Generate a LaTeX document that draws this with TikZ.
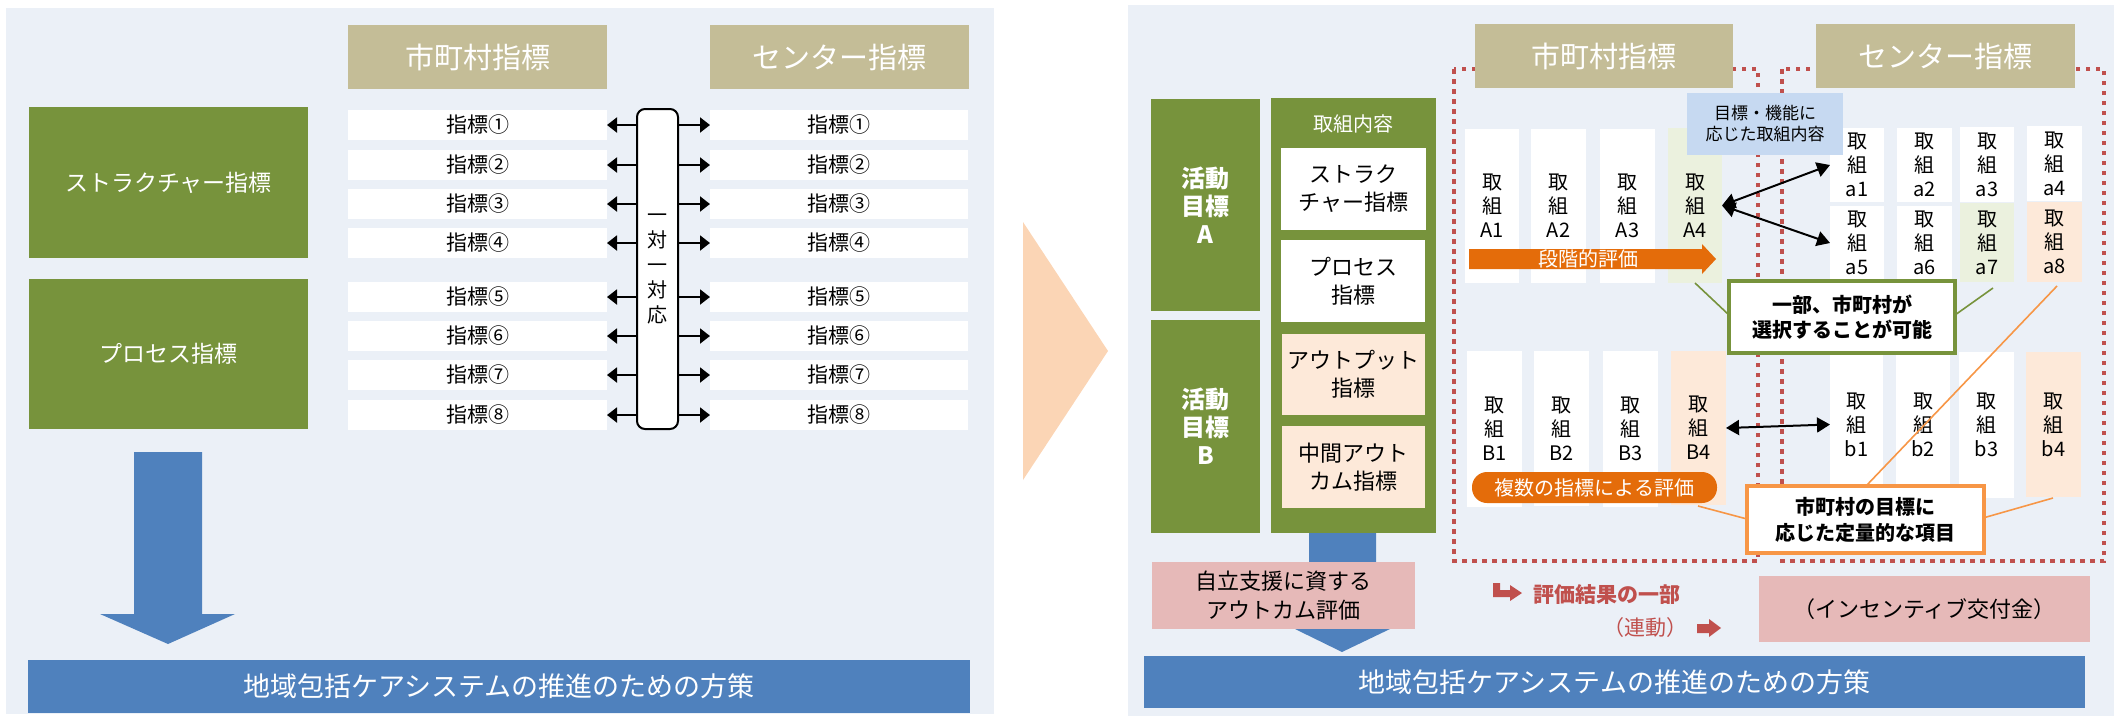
\documentclass[tikz,border=0pt]{standalone}
\usepackage{fontspec}
\setmainfont{Noto Sans CJK JP}
\usetikzlibrary{arrows.meta}
\definecolor{panelbg}{HTML}{EBF0F7}
\definecolor{tanc}{HTML}{C4BD97}
\definecolor{greenc}{HTML}{77933C}
\definecolor{lgreenc}{HTML}{EBF1DE}
\definecolor{peachc}{HTML}{FDE9D9}
\definecolor{pinkc}{HTML}{E6B9B8}
\definecolor{bluec}{HTML}{4F81BD}
\definecolor{lbluec}{HTML}{C6D9F1}
\definecolor{orangec}{HTML}{E46C0A}
\definecolor{orangel}{HTML}{F79646}
\definecolor{redc}{HTML}{C0504D}
\definecolor{chevc}{HTML}{FBD5B5}
\newcommand{\fsz}[2]{\fontsize{#1}{#2}\selectfont}
% name, style, x1, y1, x2, y2, text
\newcommand{\mkbox}[7]{%
  \pgfmathsetmacro{\mkX}{((#3)+(#5))/2}%
  \pgfmathsetmacro{\mkY}{((#4)+(#6))/2}%
  \pgfmathsetmacro{\mkW}{abs((#5)-(#3))}%
  \pgfmathsetmacro{\mkH}{abs((#6)-(#4))}%
  \node[#2, minimum width=\mkW pt, minimum height=\mkH pt] (#1) at (\mkX,\mkY) {#7};}
\tikzset{
  tanhdr/.style={fill=tanc, text=white, font=\fsz{29pt}{34pt}},
  gbox/.style={fill=greenc, text=white},
  gtitle/.style={gbox, font=\fsz{23pt}{28pt}},
  gbold/.style={gbox, font=\bfseries\fsz{24pt}{28pt}},
  rowbox/.style={fill=white, text=black, font=\fsz{21pt}{24pt}},
  wbox/.style={fill=white, text=black, font=\fsz{22pt}{28pt}},
  pbox/.style={fill=peachc, text=black, font=\fsz{22pt}{28pt}},
  tw/.style={fill=white, text=black, font=\fsz{20pt}{24pt}},
  tg/.style={fill=lgreenc, text=black, font=\fsz{20pt}{24pt}},
  tp/.style={fill=peachc, text=black, font=\fsz{20pt}{24pt}},
  pinkbox/.style={fill=pinkc, text=black, font=\fsz{22pt}{29pt}},
  barbox/.style={fill=bluec, text=white, font=\fsz{27pt}{32pt}},
  onearrow/.style={line width=2pt, -{Triangle[length=10pt,width=15pt]}},
  biarrow/.style={line width=2pt, {Triangle[length=13pt,width=15pt]}-{Triangle[length=13pt,width=15pt]}},
  dotbox/.style={draw=redc, line width=4.5pt, dash pattern=on 4.5pt off 5.5pt},
  gline/.style={draw=greenc, line width=1.6pt},
  oline/.style={draw=orangel, line width=1.6pt},
  callg/.style={fill=white, draw=greenc, line width=4pt, text=black, font=\bfseries\fsz{20pt}{25pt}},
  callo/.style={fill=white, draw=orangel, line width=4.5pt, text=black, font=\bfseries\fsz{20pt}{26pt}},
}
\begin{document}
\begin{tikzpicture}[x=1pt, y=-1pt, every node/.style={inner sep=0pt, outer sep=0pt, align=center}]
\useasboundingbox (0,0) rectangle (2118,716);
% panels
\fill[panelbg] (6,8) rectangle (994,714);
\fill[panelbg] (1128,5) rectangle (2114,716);

% ---------------- left panel ----------------
\mkbox{LH1}{tanhdr}{348}{25}{607}{89}{市町村指標}
\mkbox{LH2}{tanhdr}{710}{25}{969}{89}{センター指標}
\mkbox{LG1}{gtitle}{29}{107}{308}{258}{ストラクチャー指標}
\mkbox{LG2}{gtitle}{29}{279}{308}{429}{プロセス指標}
\mkbox{OO}{draw=black, line width=2pt, rounded corners=8pt, fill=white, font=\fsz{20pt}{25pt}}{637}{109}{678}{429}{一\\対\\一\\対\\応}
\foreach \i/\ya/\c in {1/110/①,2/150/②,3/189/③,4/228/④,5/282/⑤,6/321/⑥,7/360/⑦,8/400/⑧}{
  \mkbox{L\i}{rowbox}{348}{\ya}{607}{\ya+30}{指標\c}
  \mkbox{R\i}{rowbox}{710}{\ya}{968}{\ya+30}{指標\c}
  \draw[onearrow] (OO.west |- L\i.east) -- (L\i.east);
  \draw[onearrow] (OO.east |- R\i.west) -- (R\i.west);
}
\fill[bluec] (134,452) -- (202,452) -- (202,614) -- (235,614) -- (168,644) -- (100,614) -- (134,614) -- cycle;
\mkbox{LB}{barbox}{28}{660}{970}{713}{地域包括ケアシステムの推進のための方策}

% chevron
\fill[chevc] (1023,222) -- (1108,351) -- (1023,480) -- cycle;

% ---------------- right panel ----------------
\draw[dotbox] (1454,69) rectangle (1758,561);
\draw[dotbox] (1782,69) rectangle (2104,561);
\mkbox{RH1}{tanhdr}{1475}{24}{1733}{88}{市町村指標}
\mkbox{RH2}{tanhdr}{1816}{24}{2075}{88}{センター指標}

\mkbox{GA}{gbold}{1151}{99}{1260}{311}{活動\\目標\\A}
\mkbox{GB}{gbold}{1151}{320}{1260}{533}{活動\\目標\\B}
\fill[bluec] (1309,520) -- (1376,520) -- (1376,629) -- (1390,629) -- (1342,652) -- (1295,629) -- (1309,629) -- cycle;
\mkbox{GC}{gbox}{1271}{98}{1436}{533}{}
\node[text=white, font=\fsz{20pt}{24pt}] (GCT) at (1353.5,124) {取組内容};
\mkbox{K1}{wbox}{1281}{148}{1426}{230}{ストラク\\チャー指標}
\mkbox{K2}{wbox}{1281}{240}{1425}{322}{プロセス\\指標}
\mkbox{K3}{pbox}{1282}{334}{1425}{415}{アウトプット\\指標}
\mkbox{K4}{pbox}{1282}{426}{1425}{508}{中間アウト\\カム指標}
\mkbox{PK1}{pinkbox}{1152}{562}{1415}{629}{自立支援に資する\\アウトカム評価}
\mkbox{RB}{barbox}{1144}{656}{2085}{708}{地域包括ケアシステムの推進のための方策}

% A row
\mkbox{A1}{tw}{1465}{129}{1519}{283}{取\\組\\A1}
\mkbox{A2}{tw}{1531}{129}{1586}{283}{取\\組\\A2}
\mkbox{A3}{tw}{1600}{129}{1655}{283}{取\\組\\A3}
\mkbox{A4}{tg}{1668}{128}{1722}{283}{取\\組\\A4}
% a rows
\mkbox{a1}{tw}{1830}{128}{1884}{202}{取\\組\\a1}
\mkbox{a2}{tw}{1897}{128}{1952}{202}{取\\組\\a2}
\mkbox{a3}{tw}{1960}{127}{2014}{202}{取\\組\\a3}
\mkbox{a4}{tw}{2027}{126}{2082}{201}{取\\組\\a4}
\mkbox{a5}{tw}{1830}{206}{1884}{280}{取\\組\\a5}
\mkbox{a6}{tw}{1897}{206}{1952}{280}{取\\組\\a6}
\mkbox{a7}{tg}{1960}{203}{2014}{282}{取\\組\\a7}
\mkbox{a8}{tp}{2027}{202}{2082}{282}{取\\組\\a8}
% B row
\mkbox{B1}{tw}{1467}{351}{1522}{507}{取\\組\\B1}
\mkbox{B2}{tw}{1534}{351}{1589}{506}{取\\組\\B2}
\mkbox{B3}{tw}{1603}{351}{1658}{507}{取\\組\\B3}
\mkbox{B4}{tp}{1671}{351}{1726}{505}{取\\組\\B4}
% b row
\mkbox{b1}{tw}{1830}{352}{1883}{497}{取\\組\\b1}
\mkbox{b2}{tw}{1896}{352}{1950}{497}{取\\組\\b2}
\mkbox{b3}{tw}{1959}{352}{2014}{498}{取\\組\\b3}
\mkbox{b4}{tp}{2026}{352}{2081}{497}{取\\組\\b4}

% label
\mkbox{LBL}{fill=lbluec, text=black, font=\fsz{17pt}{21pt}}{1687}{93}{1843}{155}{目標・機能に\\応じた取組内容}

% stepwise evaluation arrow
\fill[orangec] (1469,249) -- (1702,249) -- (1702,244) -- (1716,259) -- (1702,274) -- (1702,269) -- (1469,269) -- cycle;
\node[text=white, font=\fsz{20pt}{24pt}] (SE) at (1588,259) {段階的評価};
% multiple indicators pill
\mkbox{MP}{fill=orangec, rounded corners=15pt, text=white, font=\fsz{20pt}{24pt}}{1472}{472}{1717}{503}{複数の指標による評価}

% double arrows
\draw[biarrow] (A4.east) -- (a1.west);
\draw[biarrow] (A4.east) -- (a5.west);
\draw[biarrow] (B4.east) -- (b1.west);

% callouts
\mkbox{CG}{callg}{1729}{281}{1955}{353}{一部、市町村が\\選択することが可能}
\mkbox{CO}{callo}{1747}{486}{1984}{553}{市町村の目標に\\応じた定量的な項目}
\coordinate (CGL) at (1729,315);
\coordinate (CGR) at (1955,315);
\coordinate (COL) at (1747,519);
\coordinate (COR) at (1983,518);
\coordinate (COT) at (1866,486);
\draw[gline] (1695,283) -- (CGL);
\draw[gline] (1993,288) -- (CGR);
\draw[oline] (1698,506) -- (COL);
\draw[oline] (2053,498) -- (COR);
\draw[oline] (2057,286) -- (COT);

% red texts and icons
\fill[redc] (1493,583) -- (1500,583) -- (1500,590) -- (1510,590) -- (1510,585) -- (1522,593) -- (1510,601) -- (1510,597) -- (1493,597) -- cycle;
\node[anchor=west, text=redc, font=\bfseries\fsz{21pt}{24pt}] (EV) at (1533,595) {評価結果の一部};
\node[text=redc, font=\fsz{21pt}{24pt}] (RD) at (1645,628) {（連動）};
\fill[redc] (1697,624) -- (1709,624) -- (1709,619) -- (1721,628) -- (1709,637) -- (1709,633) -- (1697,633) -- cycle;
\mkbox{PK2}{pinkbox}{1759}{576}{2090}{642}{（インセンティブ交付金）}
\end{tikzpicture}
\end{document}
